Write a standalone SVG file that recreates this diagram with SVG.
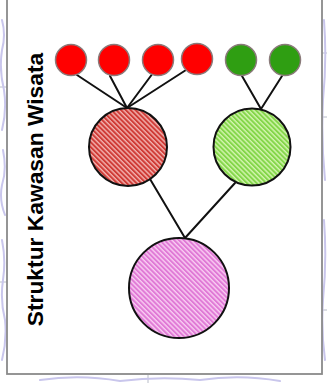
<svg xmlns="http://www.w3.org/2000/svg" width="327" height="383" viewBox="0 0 327 383">
  <style>
    .frame { fill: #ffffff; stroke: #8a8a8a; stroke-width: 1.8; }
    .scribble { fill: none; stroke: #c9c6ec; stroke-width: 2; stroke-linecap: round; }
    .grid { stroke: #b8bcc8; stroke-width: 1; }
    .leaf { stroke: #8a7a7a; stroke-width: 1.5; }
    .leaf-red { fill: #ff0000; }
    .leaf-green { fill: #2f9e12; }
    .hub { stroke: #111111; stroke-width: 2; }
    .edge { stroke: #111111; stroke-width: 2; fill: none; stroke-linecap: round; }
    .title { font-family: "Liberation Sans", Arial, sans-serif; font-weight: bold; font-size: 22.8px; fill: #000000; }
  </style>
  <defs>
    <pattern id="hatchRed" width="3.4" height="3.4" patternUnits="userSpaceOnUse" patternTransform="rotate(-45)">
      <rect width="3.4" height="3.4" fill="#f3b3b0"/>
      <rect width="2" height="3.4" fill="#cf3b36"/>
    </pattern>
    <pattern id="hatchGreen" width="3.4" height="3.4" patternUnits="userSpaceOnUse" patternTransform="rotate(-45)">
      <rect width="3.4" height="3.4" fill="#d4f5b0"/>
      <rect width="2" height="3.4" fill="#84d64a"/>
    </pattern>
    <pattern id="hatchPink" width="3.4" height="3.4" patternUnits="userSpaceOnUse" patternTransform="rotate(-45)">
      <rect width="3.4" height="3.4" fill="#f9cdf3"/>
      <rect width="2" height="3.4" fill="#e07ad6"/>
    </pattern>
  </defs>

  <!-- page background with faint sketch marks around the panel -->
  <rect width="327" height="383" fill="#ffffff"/>
  <g id="background">
    <line class="grid" x1="0" y1="87" x2="8" y2="87"/>
    <line class="grid" x1="0" y1="282" x2="8" y2="282"/>
    <line class="grid" x1="322" y1="53" x2="327" y2="53"/>
    <line class="grid" x1="322" y1="117" x2="327" y2="117"/>
    <line class="grid" x1="322" y1="310" x2="327" y2="310"/>
    <line class="grid" x1="148" y1="375" x2="148" y2="383"/>
    <path class="scribble" d="M2 20 Q6 35 2 50 Q-1 70 4 90 Q7 110 2 130"/>
    <path class="scribble" d="M3 150 Q7 170 2 185 Q-1 200 5 215"/>
    <path class="scribble" d="M2 240 Q6 260 3 280 Q0 300 5 320 Q7 340 2 360"/>
    <path class="scribble" d="M324 20 Q327 60 323 100 Q321 140 325 180"/>
    <path class="scribble" d="M324 220 Q327 260 323 300 Q321 330 325 360"/>
    <path class="scribble" d="M40 380 Q80 374 120 381 Q160 376 200 380 Q240 374 280 381"/>
  </g>

  <!-- panel frame (top edge runs past the visible area) -->
  <rect class="frame" x="7" y="-5" width="315" height="379"/>

  <!-- rotated caption -->
  <g id="caption">
    <text class="title" transform="translate(43,189.5) rotate(-90)" text-anchor="middle">Struktur Kawasan Wisata</text>
  </g>

  <!-- connectors -->
  <g id="connectors">
    <line class="edge" x1="77" y1="75" x2="127" y2="108"/>
    <line class="edge" x1="110" y1="76" x2="127" y2="108"/>
    <line class="edge" x1="153" y1="73" x2="127" y2="108"/>
    <line class="edge" x1="186" y1="70" x2="127" y2="108"/>
    <line class="edge" x1="242" y1="76" x2="261" y2="109"/>
    <line class="edge" x1="282" y1="76" x2="261" y2="109"/>
    <line class="edge" x1="150" y1="179" x2="185" y2="238"/>
    <line class="edge" x1="235" y1="183" x2="185" y2="238"/>
  </g>

  <!-- leaf nodes -->
  <g id="leaf-r1"><circle class="leaf leaf-red" cx="71" cy="60" r="15.5"/></g>
  <g id="leaf-r2"><circle class="leaf leaf-red" cx="114" cy="60" r="15.5"/></g>
  <g id="leaf-r3"><circle class="leaf leaf-red" cx="158" cy="60" r="15.5"/></g>
  <g id="leaf-r4"><circle class="leaf leaf-red" cx="197" cy="59" r="15.5"/></g>
  <g id="leaf-g1"><circle class="leaf leaf-green" cx="241" cy="60" r="15.5"/></g>
  <g id="leaf-g2"><circle class="leaf leaf-green" cx="285" cy="60" r="15.5"/></g>

  <!-- intermediate nodes -->
  <g id="hub-red"><circle class="hub" cx="128" cy="147" r="39" fill="url(#hatchRed)"/></g>
  <g id="hub-green"><circle class="hub" cx="252" cy="147" r="38.5" fill="url(#hatchGreen)"/></g>

  <!-- root node -->
  <g id="root"><circle class="hub" cx="179" cy="288" r="50" fill="url(#hatchPink)"/></g>
</svg>
